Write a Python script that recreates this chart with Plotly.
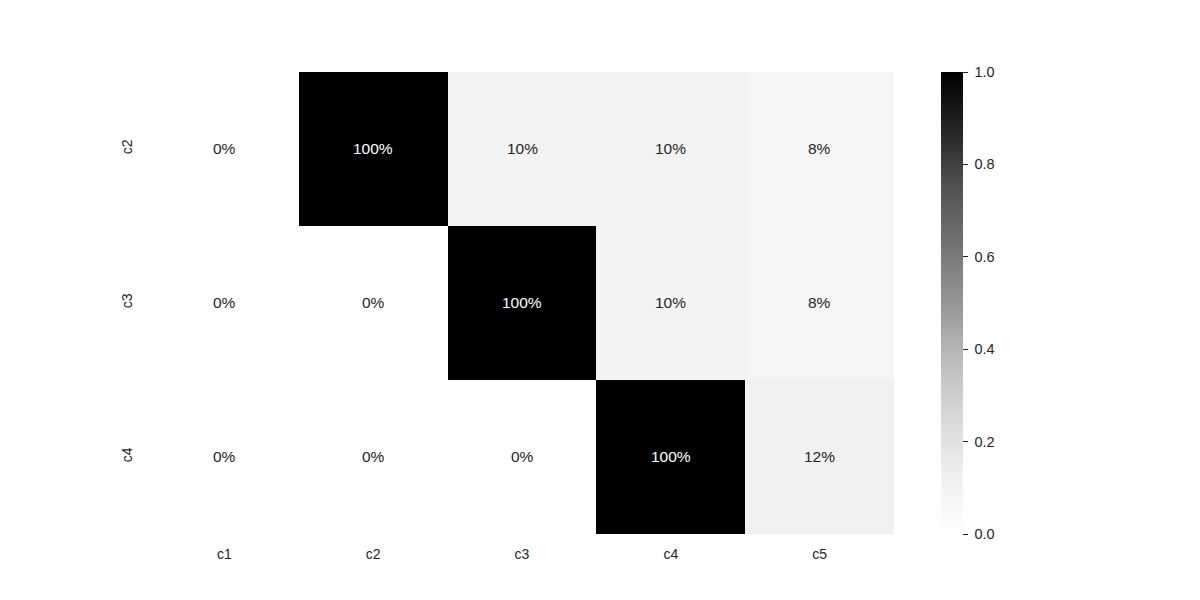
import plotly.graph_objects as go

cols = ["c1", "c2", "c3", "c4", "c5"]
rows = ["c2", "c3", "c4"]
row_c2 = [0.00, 1.00, 0.10, 0.10, 0.08]
row_c3 = [0.00, 0.00, 1.00, 0.10, 0.08]
row_c4 = [0.00, 0.00, 0.00, 1.00, 0.12]
z = [row_c2, row_c3, row_c4]
cbar_ticks = [0, 0.2, 0.4, 0.6, 0.8, 1.0]
cbar_labels = ["0.0", "0.2", "0.4", "0.6", "0.8", "1.0"]

greys = [
    [0.0, "#ffffff"], [0.125, "#f0f0f0"], [0.25, "#d9d9d9"], [0.375, "#bdbdbd"],
    [0.5, "#969696"], [0.625, "#737373"], [0.75, "#525252"], [0.875, "#252525"],
    [1.0, "#000000"],
]

FONT = "Liberation Sans, Arial, sans-serif"
TXT = "#262626"

fig = go.Figure(go.Heatmap(
    z=z, x=cols, y=rows, colorscale=greys, zmin=0, zmax=1, xgap=0, ygap=0,
    hoverinfo="skip",
    colorbar=dict(
        thickness=22, len=1.0, lenmode="fraction", x=1.063, xanchor="left",
        xpad=0, ypad=0,
        y=0.5, yanchor="middle", outlinewidth=0, ticks="outside", ticklen=5,
        tickwidth=1.2, tickcolor=TXT, tickvals=cbar_ticks,
        ticktext=[" " + t for t in cbar_labels],
        tickfont=dict(family=FONT, size=14.5, color=TXT),
    ),
))

for i, r in enumerate(rows):
    for j, c in enumerate(cols):
        v = z[i][j]
        fig.add_annotation(
            x=c, y=r, text=f"{v*100:.0f}%", showarrow=False, yshift=1,
            font=dict(family=FONT, size=15.5, color="#ffffff" if v > 0.5 else TXT),
        )

fig.update_xaxes(showgrid=False, zeroline=False, ticks="", showline=False,
                 ticklabelstandoff=10,
                 tickfont=dict(family=FONT, size=14, color=TXT))
fig.update_yaxes(showgrid=False, zeroline=False, ticks="", showline=False,
                 autorange="reversed", tickangle=-90, ticklabelstandoff=14,
                 tickfont=dict(family=FONT, size=14, color=TXT))

fig.update_layout(
    width=1200, height=600, margin=dict(l=150, r=306, t=72, b=66),
    paper_bgcolor="white", plot_bgcolor="white",
    font=dict(family=FONT, color=TXT),
)

fig.write_html("out.html")
